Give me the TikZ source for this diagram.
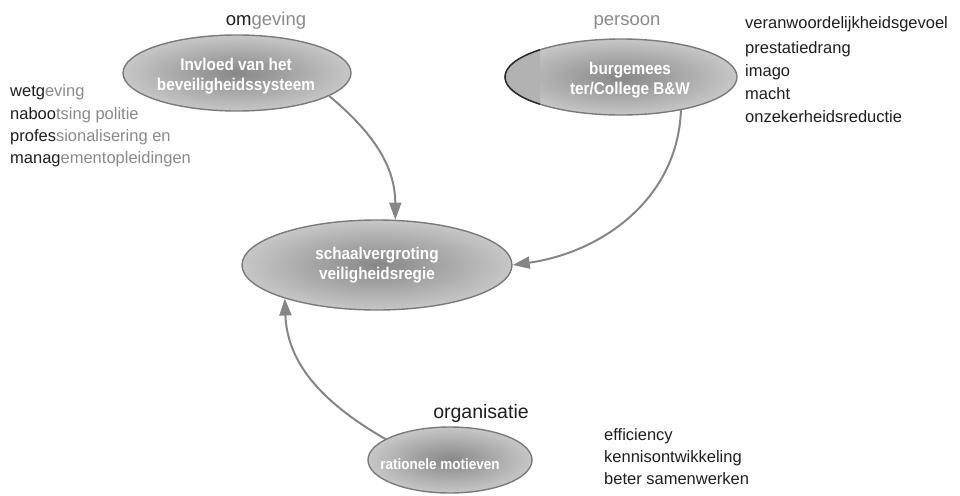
\documentclass[tikz,border=0pt]{standalone}
\usepackage{fontspec}
\setmainfont{Liberation Sans}
\newfontfamily\condfont{Liberation Sans}[FakeStretch=0.9]
\usetikzlibrary{arrows.meta,shapes.geometric}
\definecolor{dk}{HTML}{1E1E1E}
\definecolor{lg}{HTML}{8A8A8A}
\definecolor{ln}{HTML}{868686}
\definecolor{bd}{HTML}{7A7A7A}
\tikzset{
  blob/.style={ellipse, draw=bd, line width=1.4pt, inner sep=0pt,
    inner color=black!47, outer color=black!22},
  etext/.style={text=white, align=center, inner sep=0pt,
    font=\condfont\bfseries\fontsize{17}{20.5}\selectfont},
  hd/.style={anchor=base, font=\fontsize{18.5}{22}\selectfont, inner sep=0pt},
  lst/.style={anchor=base west, font=\fontsize{16.5}{20}\selectfont, inner sep=0pt, text=dk},
  arr/.style={draw=ln, line width=2pt, -{Triangle[length=17pt,width=12pt]}}
}
\begin{document}
\begin{tikzpicture}[x=1pt,y=-1pt]
\useasboundingbox (0,0) rectangle (960,495);

% ellipses
\node[blob, minimum width=228pt, minimum height=76pt] (a) at (237,73) {};
\node[blob, minimum width=232pt, minimum height=76pt] (b) at (621,77) {};
\begin{scope}
  \clip (500,30) rectangle (540,125);
  \fill[black!30] (b.center) ellipse [x radius=116pt, y radius=38pt];
  \draw[black!85, line width=1.4pt] (b.center) ellipse [x radius=116pt, y radius=38pt];
\end{scope}
\node[blob, minimum width=270pt, minimum height=90pt] (c) at (377,265) {};
\node[blob, minimum width=164pt, minimum height=66pt] (d) at (450,460) {};

% ellipse texts
\node[etext] (at) at (236,76) {Invloed van het\\beveiligheidssysteem};
\node[etext] (bt) at (630,80) {burgemees\\ter/College B\&W};
\node[etext] (ct) at (377,265) {schaalvergroting\\veiligheidsregie};
\node[etext, font=\condfont\bfseries\fontsize{15}{18}\selectfont] (dt) at (440,464) {rationele motieven};

% headings
\node[hd] (ha) at (266,26) {\textcolor{dk}{om}\textcolor{lg}{geving}};
\node[hd, text=lg] (hb) at (627,26) {persoon};
\node[hd, font=\fontsize{19.5}{22}\selectfont, text=dk] (hd1) at (481,418) {organisatie};

% left list
\node[lst] (l1) at (10,96) {wetg\textcolor{lg}{eving}};
\node[lst] (l2) at (10,119) {naboo\textcolor{lg}{tsing politie}};
\node[lst] (l3) at (10,141) {profes\textcolor{lg}{sionalisering en}};
\node[lst] (l4) at (10,163) {manag\textcolor{lg}{ementopleidingen}};

% right list
\node[lst] (r1) at (745,29) {veranwoordelijkheidsgevoel};
\node[lst] (r2) at (745,53) {prestatiedrang};
\node[lst] (r3) at (745,76) {imago};
\node[lst] (r4) at (745,99) {macht};
\node[lst] (r5) at (745,122) {onzekerheidsreductie};

% bottom list
\node[lst] (o1) at (604,440) {efficiency};
\node[lst] (o2) at (604,462) {kennisontwikkeling};
\node[lst] (o3) at (604,484) {beter samenwerken};

% connectors
\draw[arr] (a.-14) to[out=-40,in=90] (c.68);
\draw[arr] (b.-29) to[out=-92,in=8] (c.east);
\draw[arr] (d.162) to[out=150,in=-88] (c.200);
\end{tikzpicture}
\end{document}
